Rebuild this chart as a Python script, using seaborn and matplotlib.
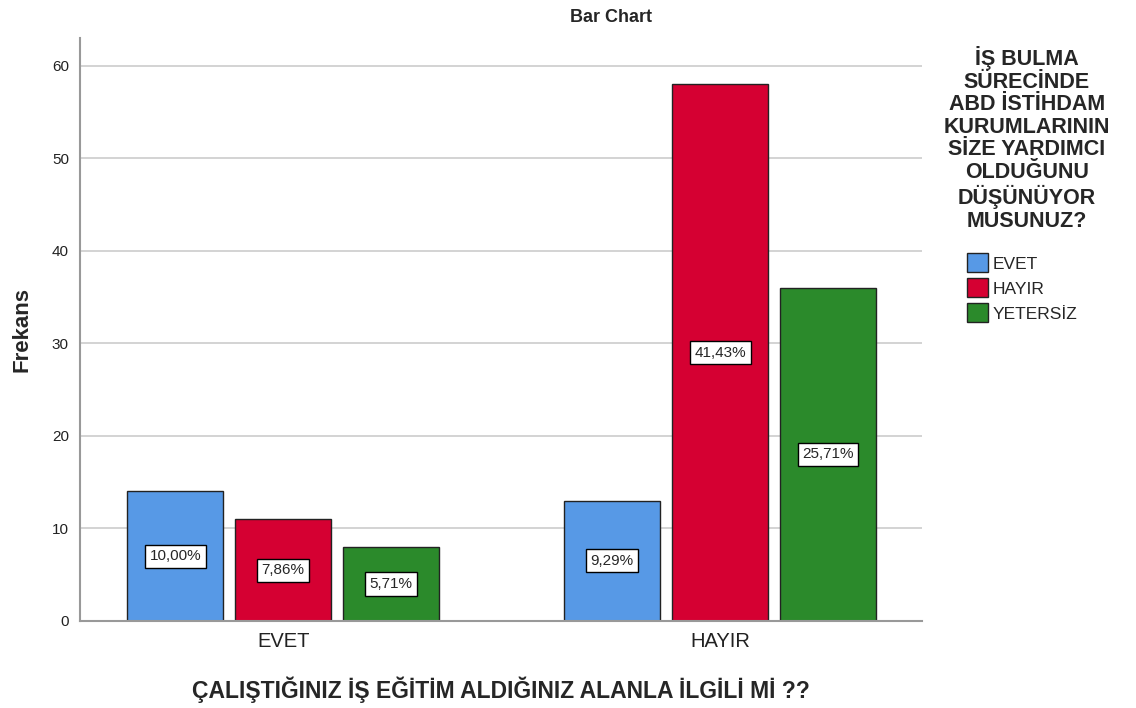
import pandas as pd
import matplotlib.pyplot as plt
import seaborn as sns

# data
groups = ['EVET', 'EVET', 'EVET', 'HAYIR', 'HAYIR', 'HAYIR']
answers = ['EVET', 'HAYIR', 'YETERSİZ', 'EVET', 'HAYIR', 'YETERSİZ']
counts = [14, 11, 8, 13, 58, 36]
hue_order = ['EVET', 'HAYIR', 'YETERSİZ']
palette = ['#5799E6', '#D50032', '#2B8A2B']

df = pd.DataFrame({'grp': groups, 'ans': answers, 'n': counts})
total = sum(counts)

sns.set_style('white')
plt.rcParams['font.family'] = ['Liberation Sans', 'DejaVu Sans']

fig = plt.figure(figsize=(11.36, 7.08), dpi=100)
ax = fig.add_axes([0.0704, 0.1229, 0.7412, 0.8234])

sns.barplot(data=df, x='grp', y='n', hue='ans', hue_order=hue_order,
            palette=palette, width=0.741, gap=0.111, saturation=1,
            edgecolor='#222222', linewidth=1, legend=False, ax=ax)

for cont, lvl in zip(ax.containers, hue_order):
    labs = []
    for g in ['EVET', 'HAYIR']:
        v = df[(df.grp == g) & (df.ans == lvl)]['n'].iloc[0]
        labs.append(f"{v / total * 100:.2f}%".replace('.', ','))
    ax.bar_label(cont, labels=labs, label_type='center', fontsize=11,
                 bbox=dict(boxstyle='square,pad=0.3', fc='white', ec='black', lw=1))

ax.set_xlim(-0.465, 1.462)
ax.set_ylim(0, 63)
ax.set_yticks([0, 10, 20, 30, 40, 50, 60])
ax.yaxis.grid(True, color='#cccccc', lw=1.2)
ax.set_axisbelow(True)
for s in ['top', 'right']:
    ax.spines[s].set_visible(False)
for s in ['left', 'bottom']:
    ax.spines[s].set_color('#999999')
    ax.spines[s].set_linewidth(1.5)
ax.tick_params(axis='y', labelsize=11, colors='#222222', length=0, pad=8)
ax.tick_params(axis='x', labelsize=14.5, colors='#222222', length=0, pad=8)
ax.set_xlabel('ÇALIŞTIĞINIZ İŞ EĞİTİM ALDIĞINIZ ALANLA İLGİLİ Mİ ??',
              fontsize=16.5, fontweight='bold', labelpad=18)
ax.set_ylabel('Frekans', fontsize=16, fontweight='bold', labelpad=14)

fig.text(0.538, 0.975, 'Bar Chart', ha='center', va='center',
         fontsize=13, fontweight='bold')

fig.text(0.904, 0.935,
         'İŞ BULMA\nSÜRECİNDE\nABD İSTİHDAM\nKURUMLARININ\nSİZE YARDIMCI\nOLDUĞUNU\nDÜŞÜNÜYOR\nMUSUNUZ?',
         ha='center', va='top', fontsize=15.5, fontweight='bold', linespacing=1.1)

handles = [plt.Rectangle((0, 0), 1, 1, fc=c, ec='#222222', lw=1) for c in palette]
fig.legend(handles, hue_order, loc='upper left', bbox_to_anchor=(0.845, 0.652),
           frameon=False, fontsize=12.5, handlelength=1.2, handleheight=1.3,
           handletextpad=0.3, labelspacing=0.35, borderaxespad=0)

plt.savefig('out.png', dpi=100)
plt.close()
